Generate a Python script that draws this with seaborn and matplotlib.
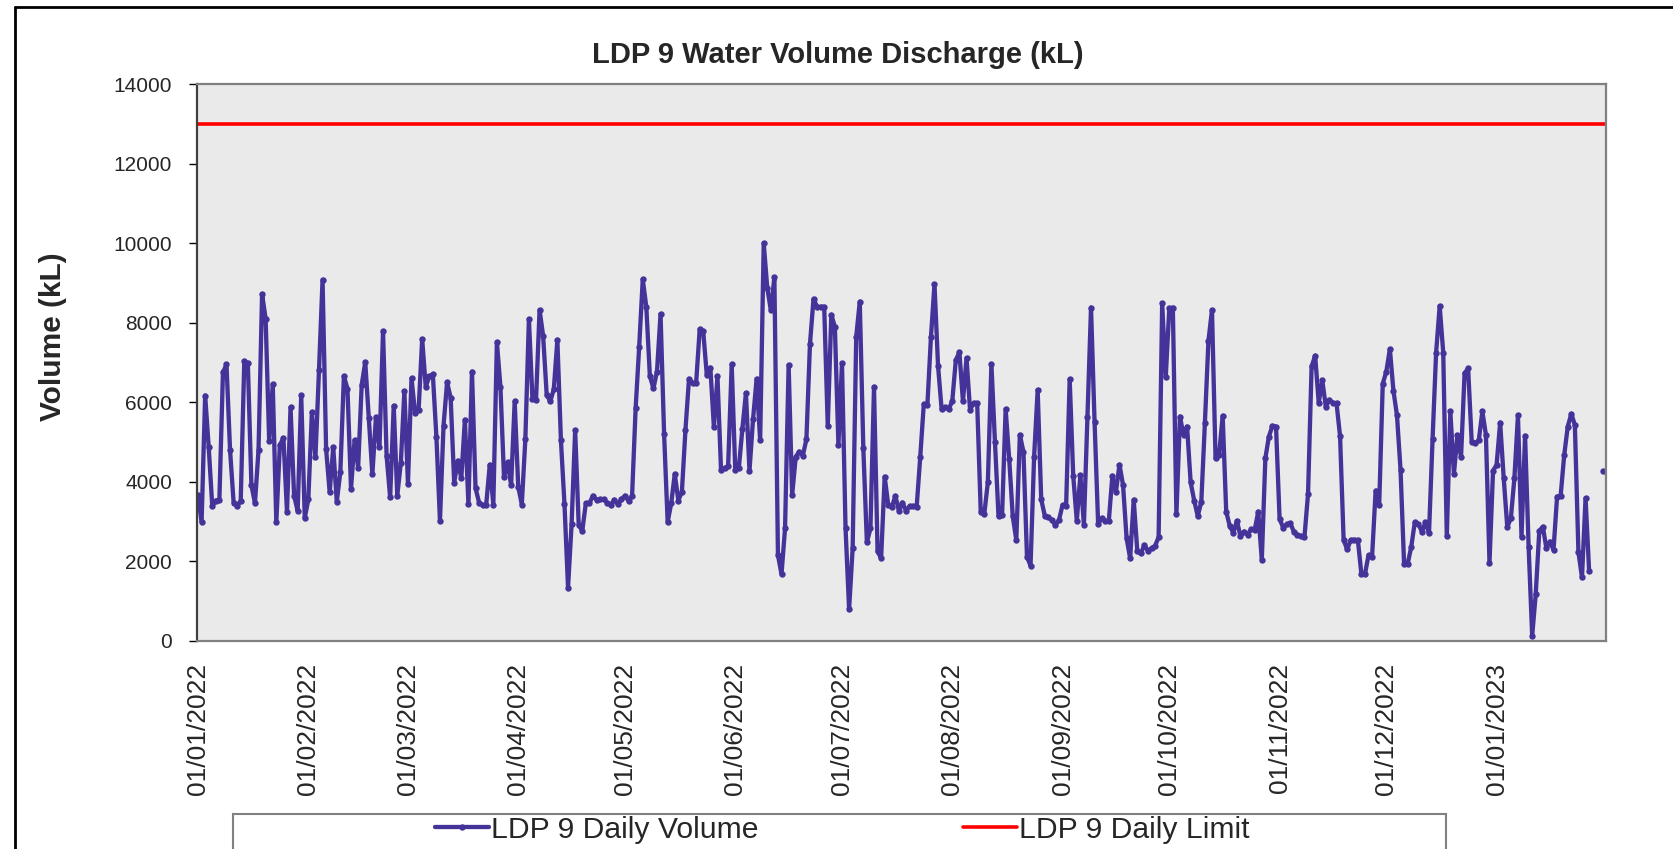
import matplotlib
matplotlib.use("Agg")
import matplotlib.pyplot as plt
import matplotlib.dates as mdates
from matplotlib.lines import Line2D
from matplotlib.patches import Rectangle
import numpy as np
import pandas as pd
import seaborn as sns

# daily readings from 01/01/2022, None = no reading that day
start_date = "2022-01-01"
daily_limit = 13000
daily_volume = [
    3670, 2990, 6170, 4870, 3390, 3530, 3550, 6750, 6950, 4800,
    3480, 3390, 3530, 7040, 6980, 3920, 3460, 4800, 8720, 8100,
    5020, 6450, 2980, 4930, 5100, 3250, 5870, 3650, 3270, 6180,
    3090, 3560, 5750, 4620, 6810, 9080, 4820, 3740, 4870, 3500,
    4250, 6660, 6340, 3830, 5050, 4360, 6440, 7010, 5600, 4190,
    5620, 4870, 7790, 4650, 3610, 5910, 3650, 4480, 6280, 3950,
    6600, 5740, 5810, 7590, 6390, 6650, 6700, 5130, 3020, 5410,
    6500, 6120, 3980, 4530, 4090, 5560, 3440, 6770, 3840, 3480,
    3410, 3430, 4430, 3430, 7510, 6390, 4130, 4490, 3920, 6020,
    3880, 3430, 5070, 8090, 6080, 6060, 8320, 7670, 6190, 6020,
    6330, 7570, 5040, 3440, 1340, 2940, 5300, 2910, 2770, 3460,
    3460, 3650, 3550, 3560, 3560, 3480, 3420, 3550, 3440, 3560,
    3650, 3520, 3650, 5850, 7400, 9090, 8400, 6660, 6350, 6770,
    8220, 5200, 2990, 3460, 4200, 3530, 3750, 5300, 6590, 6480,
    6480, 7830, 7780, 6690, 6870, 5370, 6650, 4300, 4340, 4400,
    6950, 4300, 4340, 5330, 6230, 4280, 5570, 6590, 5040, 10000,
    8870, 8320, 9140, 2160, 1680, 2840, 6940, 3670, 4630, 4760,
    4660, 5070, 7460, 8600, 8400, 8400, 8400, 5400, 8200, 7900,
    4920, 6980, 2840, 800, 2330, 7650, 8530, 4840, 2480, 2830,
    6390, 2250, 2080, 4130, 3420, 3360, 3650, 3270, 3480, 3270,
    3390, 3390, 3380, 4630, 5960, 5920, 7630, 8970, 6920, 5830,
    5870, 5830, 6030, 7060, 7260, 6020, 7110, 5810, 5980, 5980,
    3250, 3190, 3990, 6960, 5000, 3130, 3170, 5830, 4580, 3130,
    2540, 5180, 4760, 2120, 1890, 4630, 6310, 3560, 3150, 3110,
    3040, 2920, 3040, 3420, 3390, 6580, 4150, 3020, 4170, 2920,
    5620, 8380, 5500, 2940, 3080, 3020, 3020, 4150, 3750, 4430,
    3920, 2580, 2080, 3550, 2270, 2200, 2410, 2270, 2330, 2390,
    2610, 8490, 6630, 8360, 8380, 3180, 5640, 5180, 5390, 3990,
    3530, 3140, 3500, 5470, 7540, 8320, 4590, 4680, 5660, 3250,
    2890, 2720, 3020, 2640, 2750, 2670, 2810, 2790, 3250, 2040,
    4590, 5140, 5410, 5390, 3070, 2850, 2930, 2960, 2750, 2670,
    2640, 2620, 3700, 6900, 7170, 5990, 6550, 5890, 6060, 5980,
    5980, 5150, 2540, 2300, 2540, 2540, 2540, 1680, 1680, 2160,
    2120, 3780, 3420, 6470, 6770, 7340, 6290, 5670, 4300, 1930,
    1940, 2360, 2980, 2940, 2750, 2980, 2710, 5070, 7250, 8420,
    7250, 2640, 5770, 4200, 5180, 4620, 6730, 6850, 5010, 4970,
    5050, 5770, 5180, 1970, 4280, 4430, 5490, 4090, 2870, 3080,
    4090, 5670, 2620, 5160, 2370, 130, 1180, 2770, 2870, 2330,
    2500, 2290, 3630, 3650, 4670, 5390, 5710, 5430, 2230, 1600,
    3590, 1770, None, None, None, 4280,
]

volume_label = "LDP 9 Daily Volume"
limit_label = "LDP 9 Daily Limit"
volume_color = "#46339A"
limit_color = "#FF0000"

dates = pd.date_range(start_date, periods=len(daily_volume), freq="D")
df = pd.DataFrame({"date": dates, "volume": pd.Series(daily_volume, dtype="float")})
# break the line where readings are missing
df["segment"] = df["volume"].isna().cumsum()
df = df.dropna()

sns.set_style("ticks")
plt.rcParams["font.family"] = ["Liberation Sans", "DejaVu Sans"]

W, H = 1673, 849
fig = plt.figure(figsize=(W / 100, H / 100), dpi=100)
ax = fig.add_axes([197 / W, 1 - 641 / H, (1606 - 197) / W, (641 - 84) / H])
ax.set_facecolor("#EAEAEA")

sns.lineplot(data=df, x="date", y="volume", units="segment", estimator=None,
             color=volume_color, lw=3.1, marker="o", markersize=4.6,
             markeredgewidth=0, legend=False, ax=ax)
ax.axhline(daily_limit, color=limit_color, lw=2.6)

ax.set_ylim(0, 14000)
ax.set_yticks(np.arange(0, 14001, 2000))
ax.set_xlim(dates[0] - pd.Timedelta(hours=7), dates[-1] + pd.Timedelta(hours=18))
ax.xaxis.set_major_locator(mdates.MonthLocator())
ax.xaxis.set_major_formatter(mdates.DateFormatter("%d/%m/%Y"))
ax.tick_params(axis="x", labelrotation=90, labelsize=19, length=0, pad=16)
ax.tick_params(axis="y", labelsize=15, length=6, pad=12, width=1, color="black")
ax.set_xlabel("")
ax.set_ylabel("")
for side in ["top", "right", "bottom"]:
    ax.spines[side].set_color("#808080")
    ax.spines[side].set_linewidth(1.6)
ax.spines["left"].set_color("#404040")
ax.spines["left"].set_linewidth(1.6)

fig.text(838 / W, 1 - 55 / H, "LDP 9 Water Volume Discharge (kL)",
         ha="center", va="center", fontsize=21, fontweight="bold")
fig.text(53 / W, 1 - 337 / H, "Volume (kL)", rotation=90,
         ha="center", va="center", fontsize=21.5, fontweight="bold")

handles = [
    Line2D([], [], color=volume_color, lw=3.1, marker="o", markersize=4.6, markeredgewidth=0),
    Line2D([], [], color=limit_color, lw=2.6),
]
fig.legend(handles, [volume_label, limit_label], loc="center",
           bbox_to_anchor=(842 / W, 19 / H), ncol=2, frameon=False,
           fontsize=21.7, handlelength=1.8, handletextpad=0.05, columnspacing=6.8)
fig.patches.append(Rectangle((233 / W, -0.05), (1446 - 233) / W, 35 / H + 0.05,
                             transform=fig.transFigure, fill=False,
                             edgecolor="#808080", lw=1.5))

# outer chart border (left and top edges are visible)
fig.lines.append(Line2D([15 / W, 15 / W], [0, 1 - 7 / H], transform=fig.transFigure,
                        color="black", lw=2))
fig.lines.append(Line2D([15 / W, 1.0], [1 - 7 / H, 1 - 7 / H], transform=fig.transFigure,
                        color="black", lw=2))

fig.savefig("out.png", dpi=100)
